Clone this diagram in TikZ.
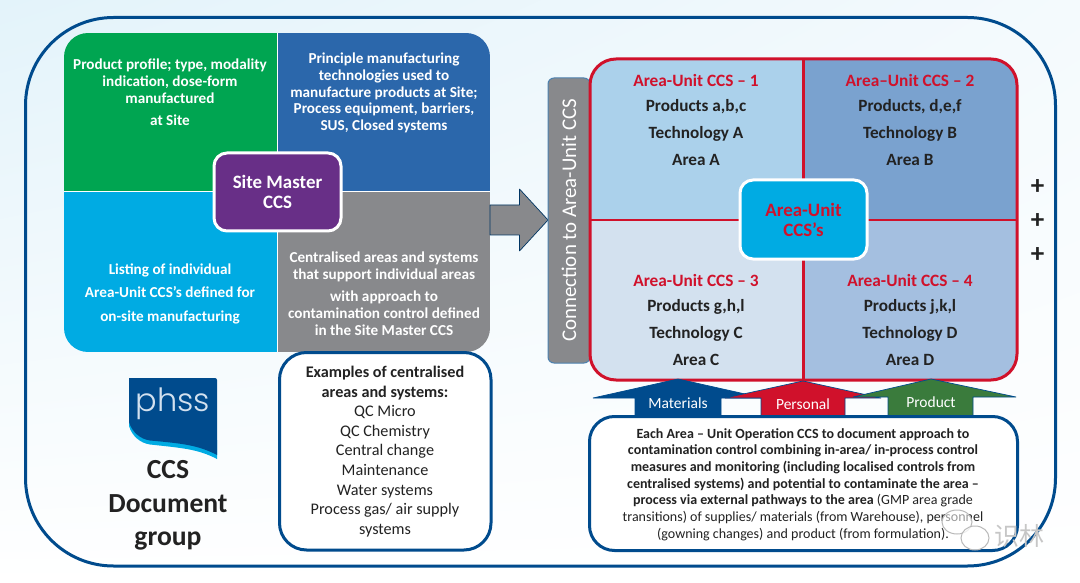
\documentclass[tikz,border=0pt]{standalone}
\usepackage{fontspec}
\usepackage{xcolor}
\usetikzlibrary{shadings}
\setmainfont{Carlito}
\newfontfamily\logofont{Poppins Light}
\newfontfamily\cnfont{Noto Sans CJK SC}
\definecolor{framebl}{HTML}{004B8D}
\definecolor{paleul}{HTML}{E3F3FA}
\definecolor{paleur}{HTML}{F4FAFD}
\definecolor{qgreen}{HTML}{00A551}
\definecolor{qblue}{HTML}{2B67AB}
\definecolor{qcyan}{HTML}{00ABE3}
\definecolor{qgray}{HTML}{88898C}
\definecolor{qpurple}{HTML}{682F87}
\definecolor{ccsred}{HTML}{D0112B}
\definecolor{areaa}{HTML}{ABD1EB}
\definecolor{areab}{HTML}{7AA2CF}
\definecolor{areac}{HTML}{D3E1EF}
\definecolor{aread}{HTML}{A4BFE0}
\definecolor{prodgreen}{HTML}{3A7B3C}
\definecolor{inktext}{HTML}{222222}
\tikzstyle{quadtext} = [text=white, align=center, font=\fontsize{15.2}{16.7}\selectfont\bfseries]
\tikzstyle{hubbox} = [draw=white, line width=3pt, rounded corners=13pt, align=center, font=\fontsize{18.9}{20}\selectfont\bfseries]
\tikzstyle{areatext} = [text=inktext, font=\fontsize{17.2}{19}\selectfont\bfseries]
\tikzstyle{areahead} = [text=ccsred, font=\fontsize{17.3}{19}\selectfont\bfseries]
\tikzstyle{upblock} = [draw=framebl, line width=0.7pt, line join=bevel]
\tikzstyle{uplabel} = [text=white, font=\fontsize{15.5}{18}\selectfont]
\tikzstyle{panel} = [draw=framebl, line width=3pt, fill=white]
\tikzstyle{plusmark} = [text=inktext, font=\fontsize{27}{27}\selectfont\bfseries]

\begin{document}
\begin{tikzpicture}[x=1pt, y=-1pt]
\useasboundingbox (0,0) rectangle (1080,583);
\shade[upper left=paleul, upper right=paleur, lower left=white, lower right=white] (0,0) rectangle (1080,583);
\draw[framebl, line width=3pt, rounded corners=88pt] (25.5,17.5) rectangle (1055.5,566);

\begin{scope}
\clip[rounded corners=24pt] (64,33) rectangle (490,352);
\fill[qgreen] (64,33) rectangle (277,192);
\fill[qblue] (277,33) rectangle (490,192);
\fill[qcyan] (64,192) rectangle (277,352);
\fill[qgray] (277,192) rectangle (490,352);
\draw[white, line width=1pt] (277,33) -- (277,352) (64,192) -- (490,192);
\end{scope}
\node[quadtext] (profile) at (170,92.5) {Product profile; type, modality\\indication, dose-form\\manufactured\\[6pt]at Site};
\node[quadtext] (technol) at (384,93) {Principle manufacturing\\technologies used to\\manufacture products at Site;\\Process equipment, barriers,\\SUS, Closed systems};
\node[quadtext, font=\fontsize{15.2}{23.5}\selectfont\bfseries] (listing) at (170,293.5) {Listing of individual\\Area-Unit CCS’s defined for\\on-site manufacturing};
\node[quadtext] (central) at (384,293.5) {Centralised areas and systems\\that support individual areas\\[6pt]with approach to\\contamination control defined\\in the Site Master CCS};
\node[hubbox, fill=qpurple, text=white, minimum width=127pt, minimum height=78pt, inner sep=0pt] (master) at (277.5,192) {Site Master\\CCS};

\draw[upblock, draw=framebl!70!black, fill=qgray] (490,205) -- (519.5,205) -- (519.5,189) -- (548,220) -- (519.5,251) -- (519.5,235) -- (490,235) -- cycle;

\node[draw=framebl!70, line width=1pt, fill=qgray, rounded corners=6pt, minimum width=285pt, minimum height=42pt, inner sep=0pt, rotate=90, text=white, font=\fontsize{20.9}{22}\selectfont] (connect) at (569,220.5) {Connection to Area-Unit CCS};

\begin{scope}
\clip[rounded corners=26pt] (590,59) rectangle (1017,380);
\fill[areaa] (590,59) rectangle (803.5,220);
\fill[areab] (803.5,59) rectangle (1017,220);
\fill[areac] (590,220) rectangle (803.5,380);
\fill[aread] (803.5,220) rectangle (1017,380);
\end{scope}
\draw[ccsred, line width=2.5pt] (803.5,59) -- (803.5,380) (590,220) -- (1017,220);
\draw[ccsred, line width=3pt, rounded corners=26pt] (590,59) rectangle (1017,380);
\node[hubbox, fill=qcyan, text=ccsred, minimum width=127pt, minimum height=79pt, inner sep=0pt] (areahub) at (803.5,219.5) {Area-Unit\\CCS’s};

\foreach \nm/\x/\y/\txt in {h1/696/80/{Area-Unit CCS – 1}, h2/910/80/{Area–Unit CCS – 2}, h3/696/280/{Area-Unit CCS – 3}, h4/910/280/{Area-Unit CCS – 4}}
{
	\node[areahead] (\nm) at (\x,\y) {\txt};
}
\foreach \nm/\x/\y/\txt in {p1/696/107/{Products a,b,c}, t1/696/133.5/{Technology A}, a1/696/160/{Area A},
	p2/910/107/{Products, d,e,f}, t2/910/133.5/{Technology B}, a2/910/160/{Area B},
	p3/696/307/{Products g,h,l}, t3/696/334/{Technology C}, a3/696/360/{Area C},
	p4/910/307/{Products j,k,l}, t4/910/334/{Technology D}, a4/910/360/{Area D}}
{
	\node[areatext] (\nm) at (\x,\y) {\txt};
}
\foreach \nm/\y in {plusa/187,plusb/221,plusc/255}
{
	\node[plusmark] (\nm) at (1037.5,\y) {+};
}

\draw[upblock, fill=framebl] (635,417) -- (635,398) -- (593,398) -- (678,379) -- (763,398) -- (721,398) -- (721,417) -- cycle;
\draw[upblock, fill=ccsred] (761,417) -- (761,398) -- (725,398) -- (803,381) -- (881,398) -- (845,398) -- (845,417) -- cycle;
\draw[upblock, fill=prodgreen] (888,417) -- (888,397) -- (853,397) -- (931,379) -- (1016,397) -- (973,397) -- (973,417) -- cycle;
\node[uplabel] (materials) at (678,403) {Materials};
\node[uplabel] (personal) at (803,404) {Personal};
\node[uplabel] (product) at (931,402) {Product};

\draw[panel, rounded corners=27pt] (279.5,352.5) rectangle (491,550);
\node[align=center, text=inktext, font=\fontsize{16.2}{19.6}\selectfont] (examples) at (385,451.5) {\textbf{Examples of centralised}\\\textbf{areas and systems:}\\QC Micro\\QC Chemistry\\Central change\\Maintenance\\Water systems\\Process gas/ air supply\\systems};

\draw[panel, rounded corners=25pt] (589.5,416.5) rectangle (1017.5,550.5);
\node[align=center, text=inktext, font=\fontsize{14}{16.7}\selectfont] (eacharea) at (803,484.5) {\textbf{Each Area – Unit Operation CCS to document approach to}\\\textbf{contamination control combining in-area/ in-process control}\\\textbf{measures and monitoring (including localised controls from}\\\textbf{centralised systems) and potential to contaminate the area –}\\\textbf{process via external pathways to the area} (GMP area grade\\transitions) of supplies/ materials (from Warehouse), personnel\\(gowning changes) and product (from formulation).};

\fill[qcyan] (129,410) -- (217,440) -- (217,459) .. controls (198,449) and (182,448) .. (150,444.5) .. controls (140,443) and (132,436) .. (129,426) -- cycle;
\fill[framebl, rounded corners=2pt] (129,378) -- (217,378) -- (217,420) [sharp corners] -- (217,455) .. controls (198,445) and (182,443.5) .. (150,440.5) .. controls (140,439) and (132,432) .. (129,422) -- cycle;
\node[text=areac, font=\fontsize{32}{32}\selectfont\logofont, inner sep=0pt] (phss) at (173,404) {phss};
\node[align=center, text=inktext, font=\fontsize{27.6}{33.5}\selectfont\bfseries] (ccsgroup) at (168,505.5) {CCS\\Document\\group};

\draw[gray!55, line width=1pt, fill=white, fill opacity=0.55] (957,522) ellipse [x radius=15, y radius=12];
\draw[gray!55, line width=1pt, fill=white, fill opacity=0.75] (975,538) ellipse [x radius=14, y radius=12];
\node[text=gray!45, inner sep=0pt, font=\fontsize{25}{25}\selectfont\cnfont] (shilin) at (1019,536) {识林};
\end{tikzpicture}
\end{document}
